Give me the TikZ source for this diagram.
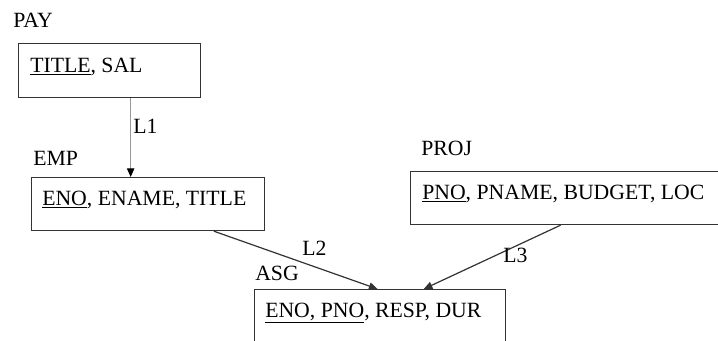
\documentclass[tikz,border=0pt]{standalone}
\usepackage{fontspec}
\setmainfont{Liberation Serif}
\usetikzlibrary{arrows.meta,calc}
\begin{document}
\begin{tikzpicture}[x=0.75pt,y=-0.75pt,
  box/.style={draw=black!80,line width=0.9pt,rectangle,inner sep=0pt,anchor=north west},
  lbl/.style={anchor=base west,inner sep=0pt,font=\fontsize{16.3}{18}\selectfont,text=black},
  conn/.style={line width=0.9pt,draw=black!80,-{Triangle[length=6.5pt,width=5.5pt]}},
  connlight/.style={line width=0.9pt,draw=black!40,-{Triangle[length=6.5pt,width=5.5pt,color=black]}}]
\clip (0,0) rectangle (718,340);
\fill[white] (0,0) rectangle (718,340);
% boxes
\node[box,minimum width=182*0.75pt,minimum height=54*0.75pt] (pay) at (18,43) {};
\node[box,minimum width=233*0.75pt,minimum height=53*0.75pt] (emp) at (31,177) {};
\node[box,minimum width=315*0.75pt,minimum height=53*0.75pt] (proj) at (410,171) {};
\node[box,minimum width=251*0.75pt,minimum height=70*0.75pt] (asg) at (254,289) {};
% titles
\node[lbl] (payt) at (13,27) {PAY};
\node[lbl] (empt) at (33,165) {EMP};
\node[lbl] (projt) at (421,155) {PROJ};
\node[lbl] (asgt) at (255,280) {ASG};
% contents
\node[lbl] (payc) at (30,72) {\underline{TITLE}, SAL};
\node[lbl] (empc) at (42,205) {\underline{ENO}, ENAME, TITLE};
\node[lbl] (projc) at (422,199) {\underline{PNO}, PNAME, BUDGET, LOC};
\node[lbl] (asgc) at (265,317) {\underline{ENO, PNO}, RESP, DUR};
% connector ends
\coordinate (l1s) at ($(pay.south west)!0.615!(pay.south east)$);
\coordinate (l1e) at (l1s |- emp.north);
\coordinate (l2s) at ($(emp.south west)!0.781!(emp.south east)$);
\coordinate (l2e) at ($(asg.north west)!0.49!(asg.north east)$);
\coordinate (l3s) at ($(proj.south west)!0.476!(proj.south east)$);
\coordinate (l3e) at ($(asg.north west)!0.673!(asg.north east)$);
\draw[connlight] (l1s) -- (l1e);
\draw[conn] (l2s) -- (l2e);
\draw[conn] (l3s) -- (l3e);
% connector labels
\node[lbl] (l1) at (133,133) {L1};
\node[lbl] (l2) at (302,255) {L2};
\node[lbl] (l3) at (503,262) {L3};
\end{tikzpicture}
\end{document}
